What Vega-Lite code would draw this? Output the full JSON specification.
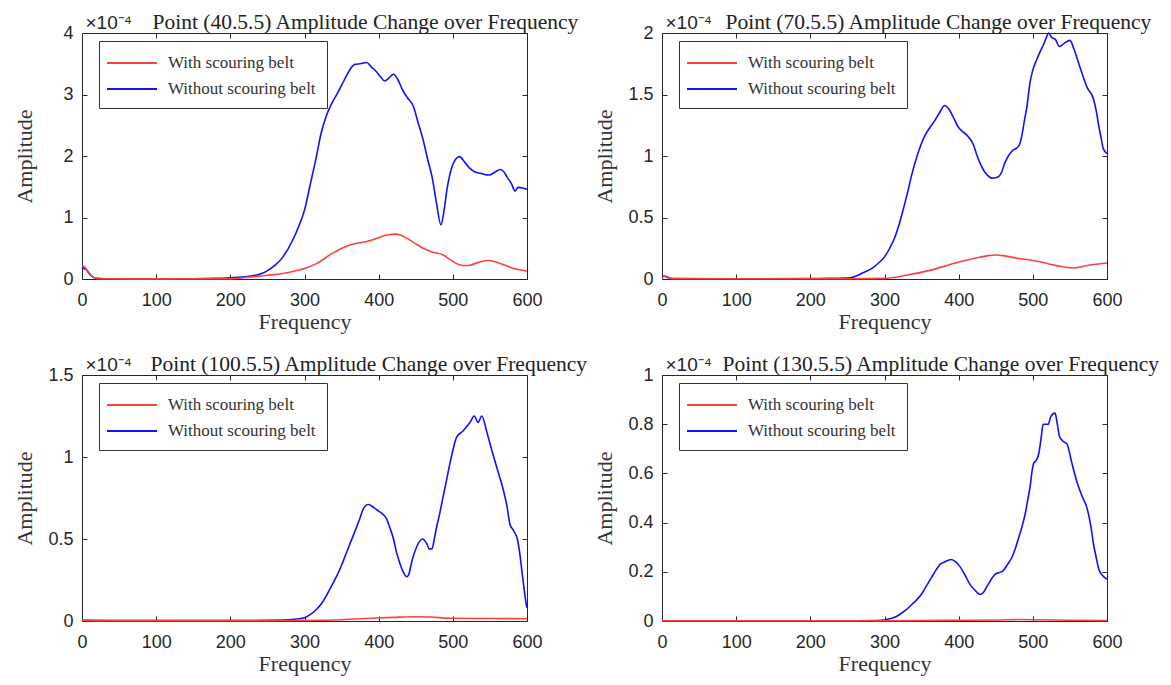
{
  "$schema": "https://vega.github.io/schema/vega-lite/v6.json",
  "background": "white",
  "padding": {"left": 12, "top": 10, "right": 5, "bottom": 5},
  "bounds": "flush",
  "columns": 2,
  "spacing": {"row": 96, "column": 135},
  "datasets": {
    "p1": [
      {"f":0,"a":0.19,"s":"Without scouring belt"},{"f":3,"a":0.17,"s":"Without scouring belt"},{"f":6,"a":0.15,"s":"Without scouring belt"},{"f":10,"a":0.08,"s":"Without scouring belt"},{"f":15,"a":0.03,"s":"Without scouring belt"},{"f":20,"a":0.01,"s":"Without scouring belt"},{"f":30,"a":0.005,"s":"Without scouring belt"},{"f":50,"a":0.003,"s":"Without scouring belt"},{"f":100,"a":0.003,"s":"Without scouring belt"},{"f":150,"a":0.005,"s":"Without scouring belt"},{"f":180,"a":0.01,"s":"Without scouring belt"},{"f":200,"a":0.02,"s":"Without scouring belt"},{"f":215,"a":0.03,"s":"Without scouring belt"},{"f":225,"a":0.045,"s":"Without scouring belt"},{"f":237,"a":0.07,"s":"Without scouring belt"},{"f":248,"a":0.12,"s":"Without scouring belt"},{"f":260,"a":0.22,"s":"Without scouring belt"},{"f":271,"a":0.36,"s":"Without scouring belt"},{"f":284,"a":0.63,"s":"Without scouring belt"},{"f":292,"a":0.85,"s":"Without scouring belt"},{"f":300,"a":1.12,"s":"Without scouring belt"},{"f":308,"a":1.55,"s":"Without scouring belt"},{"f":316,"a":1.99,"s":"Without scouring belt"},{"f":322,"a":2.35,"s":"Without scouring belt"},{"f":329,"a":2.64,"s":"Without scouring belt"},{"f":336,"a":2.84,"s":"Without scouring belt"},{"f":343,"a":2.99,"s":"Without scouring belt"},{"f":350,"a":3.15,"s":"Without scouring belt"},{"f":356,"a":3.29,"s":"Without scouring belt"},{"f":362,"a":3.42,"s":"Without scouring belt"},{"f":368,"a":3.49,"s":"Without scouring belt"},{"f":375,"a":3.5,"s":"Without scouring belt"},{"f":384,"a":3.52,"s":"Without scouring belt"},{"f":390,"a":3.45,"s":"Without scouring belt"},{"f":397,"a":3.37,"s":"Without scouring belt"},{"f":403,"a":3.28,"s":"Without scouring belt"},{"f":408,"a":3.22,"s":"Without scouring belt"},{"f":414,"a":3.27,"s":"Without scouring belt"},{"f":420,"a":3.33,"s":"Without scouring belt"},{"f":426,"a":3.24,"s":"Without scouring belt"},{"f":432,"a":3.08,"s":"Without scouring belt"},{"f":438,"a":2.96,"s":"Without scouring belt"},{"f":447,"a":2.8,"s":"Without scouring belt"},{"f":453,"a":2.55,"s":"Without scouring belt"},{"f":460,"a":2.26,"s":"Without scouring belt"},{"f":466,"a":1.95,"s":"Without scouring belt"},{"f":472,"a":1.66,"s":"Without scouring belt"},{"f":478,"a":1.23,"s":"Without scouring belt"},{"f":484,"a":0.88,"s":"Without scouring belt"},{"f":488,"a":1.1,"s":"Without scouring belt"},{"f":492,"a":1.45,"s":"Without scouring belt"},{"f":499,"a":1.83,"s":"Without scouring belt"},{"f":504,"a":1.95,"s":"Without scouring belt"},{"f":509,"a":1.99,"s":"Without scouring belt"},{"f":516,"a":1.9,"s":"Without scouring belt"},{"f":523,"a":1.8,"s":"Without scouring belt"},{"f":530,"a":1.74,"s":"Without scouring belt"},{"f":537,"a":1.72,"s":"Without scouring belt"},{"f":549,"a":1.69,"s":"Without scouring belt"},{"f":557,"a":1.74,"s":"Without scouring belt"},{"f":564,"a":1.78,"s":"Without scouring belt"},{"f":569,"a":1.74,"s":"Without scouring belt"},{"f":573,"a":1.66,"s":"Without scouring belt"},{"f":579,"a":1.55,"s":"Without scouring belt"},{"f":584,"a":1.43,"s":"Without scouring belt"},{"f":588,"a":1.49,"s":"Without scouring belt"},{"f":594,"a":1.48,"s":"Without scouring belt"},{"f":600,"a":1.46,"s":"Without scouring belt"},
      {"f":0,"a":0.22,"s":"With scouring belt"},{"f":3,"a":0.2,"s":"With scouring belt"},{"f":6,"a":0.16,"s":"With scouring belt"},{"f":10,"a":0.09,"s":"With scouring belt"},{"f":15,"a":0.03,"s":"With scouring belt"},{"f":20,"a":0.01,"s":"With scouring belt"},{"f":30,"a":0.003,"s":"With scouring belt"},{"f":100,"a":0.002,"s":"With scouring belt"},{"f":200,"a":0.005,"s":"With scouring belt"},{"f":225,"a":0.03,"s":"With scouring belt"},{"f":250,"a":0.06,"s":"With scouring belt"},{"f":271,"a":0.09,"s":"With scouring belt"},{"f":290,"a":0.14,"s":"With scouring belt"},{"f":300,"a":0.17,"s":"With scouring belt"},{"f":316,"a":0.25,"s":"With scouring belt"},{"f":338,"a":0.42,"s":"With scouring belt"},{"f":356,"a":0.53,"s":"With scouring belt"},{"f":370,"a":0.58,"s":"With scouring belt"},{"f":384,"a":0.61,"s":"With scouring belt"},{"f":395,"a":0.65,"s":"With scouring belt"},{"f":406,"a":0.7,"s":"With scouring belt"},{"f":414,"a":0.72,"s":"With scouring belt"},{"f":422,"a":0.73,"s":"With scouring belt"},{"f":430,"a":0.71,"s":"With scouring belt"},{"f":438,"a":0.66,"s":"With scouring belt"},{"f":449,"a":0.58,"s":"With scouring belt"},{"f":460,"a":0.5,"s":"With scouring belt"},{"f":472,"a":0.44,"s":"With scouring belt"},{"f":487,"a":0.39,"s":"With scouring belt"},{"f":496,"a":0.32,"s":"With scouring belt"},{"f":505,"a":0.25,"s":"With scouring belt"},{"f":514,"a":0.22,"s":"With scouring belt"},{"f":521,"a":0.22,"s":"With scouring belt"},{"f":530,"a":0.25,"s":"With scouring belt"},{"f":540,"a":0.29,"s":"With scouring belt"},{"f":548,"a":0.3,"s":"With scouring belt"},{"f":557,"a":0.28,"s":"With scouring belt"},{"f":569,"a":0.23,"s":"With scouring belt"},{"f":580,"a":0.18,"s":"With scouring belt"},{"f":590,"a":0.15,"s":"With scouring belt"},{"f":600,"a":0.13,"s":"With scouring belt"}
    ],
    "p2": [
      {"f":0,"a":0.02,"s":"Without scouring belt"},{"f":3,"a":0.025,"s":"Without scouring belt"},{"f":6,"a":0.02,"s":"Without scouring belt"},{"f":10,"a":0.008,"s":"Without scouring belt"},{"f":15,"a":0.003,"s":"Without scouring belt"},{"f":50,"a":0.002,"s":"Without scouring belt"},{"f":100,"a":0.002,"s":"Without scouring belt"},{"f":200,"a":0.003,"s":"Without scouring belt"},{"f":225,"a":0.005,"s":"Without scouring belt"},{"f":253,"a":0.01,"s":"Without scouring belt"},{"f":271,"a":0.05,"s":"Without scouring belt"},{"f":284,"a":0.09,"s":"Without scouring belt"},{"f":292,"a":0.13,"s":"Without scouring belt"},{"f":300,"a":0.18,"s":"Without scouring belt"},{"f":307,"a":0.25,"s":"Without scouring belt"},{"f":314,"a":0.34,"s":"Without scouring belt"},{"f":320,"a":0.45,"s":"Without scouring belt"},{"f":325,"a":0.56,"s":"Without scouring belt"},{"f":331,"a":0.7,"s":"Without scouring belt"},{"f":336,"a":0.83,"s":"Without scouring belt"},{"f":345,"a":1.02,"s":"Without scouring belt"},{"f":354,"a":1.16,"s":"Without scouring belt"},{"f":361,"a":1.23,"s":"Without scouring belt"},{"f":368,"a":1.29,"s":"Without scouring belt"},{"f":375,"a":1.36,"s":"Without scouring belt"},{"f":381,"a":1.41,"s":"Without scouring belt"},{"f":388,"a":1.37,"s":"Without scouring belt"},{"f":394,"a":1.3,"s":"Without scouring belt"},{"f":399,"a":1.24,"s":"Without scouring belt"},{"f":405,"a":1.2,"s":"Without scouring belt"},{"f":411,"a":1.17,"s":"Without scouring belt"},{"f":420,"a":1.09,"s":"Without scouring belt"},{"f":425,"a":1.0,"s":"Without scouring belt"},{"f":429,"a":0.94,"s":"Without scouring belt"},{"f":434,"a":0.88,"s":"Without scouring belt"},{"f":438,"a":0.85,"s":"Without scouring belt"},{"f":444,"a":0.82,"s":"Without scouring belt"},{"f":453,"a":0.83,"s":"Without scouring belt"},{"f":458,"a":0.87,"s":"Without scouring belt"},{"f":462,"a":0.94,"s":"Without scouring belt"},{"f":467,"a":1.0,"s":"Without scouring belt"},{"f":472,"a":1.04,"s":"Without scouring belt"},{"f":481,"a":1.08,"s":"Without scouring belt"},{"f":485,"a":1.16,"s":"Without scouring belt"},{"f":489,"a":1.3,"s":"Without scouring belt"},{"f":492,"a":1.4,"s":"Without scouring belt"},{"f":496,"a":1.59,"s":"Without scouring belt"},{"f":500,"a":1.7,"s":"Without scouring belt"},{"f":505,"a":1.78,"s":"Without scouring belt"},{"f":510,"a":1.85,"s":"Without scouring belt"},{"f":514,"a":1.9,"s":"Without scouring belt"},{"f":518,"a":1.96,"s":"Without scouring belt"},{"f":521,"a":2.0,"s":"Without scouring belt"},{"f":526,"a":1.96,"s":"Without scouring belt"},{"f":530,"a":1.95,"s":"Without scouring belt"},{"f":536,"a":1.89,"s":"Without scouring belt"},{"f":543,"a":1.92,"s":"Without scouring belt"},{"f":550,"a":1.94,"s":"Without scouring belt"},{"f":556,"a":1.86,"s":"Without scouring belt"},{"f":562,"a":1.75,"s":"Without scouring belt"},{"f":567,"a":1.66,"s":"Without scouring belt"},{"f":573,"a":1.56,"s":"Without scouring belt"},{"f":582,"a":1.46,"s":"Without scouring belt"},{"f":586,"a":1.35,"s":"Without scouring belt"},{"f":589,"a":1.24,"s":"Without scouring belt"},{"f":592,"a":1.15,"s":"Without scouring belt"},{"f":595,"a":1.06,"s":"Without scouring belt"},{"f":600,"a":1.02,"s":"Without scouring belt"},
      {"f":0,"a":0.01,"s":"With scouring belt"},{"f":4,"a":0.02,"s":"With scouring belt"},{"f":8,"a":0.01,"s":"With scouring belt"},{"f":15,"a":0.003,"s":"With scouring belt"},{"f":100,"a":0.002,"s":"With scouring belt"},{"f":250,"a":0.002,"s":"With scouring belt"},{"f":300,"a":0.005,"s":"With scouring belt"},{"f":329,"a":0.03,"s":"With scouring belt"},{"f":361,"a":0.07,"s":"With scouring belt"},{"f":396,"a":0.13,"s":"With scouring belt"},{"f":423,"a":0.17,"s":"With scouring belt"},{"f":440,"a":0.19,"s":"With scouring belt"},{"f":451,"a":0.195,"s":"With scouring belt"},{"f":460,"a":0.19,"s":"With scouring belt"},{"f":469,"a":0.18,"s":"With scouring belt"},{"f":483,"a":0.165,"s":"With scouring belt"},{"f":496,"a":0.155,"s":"With scouring belt"},{"f":510,"a":0.14,"s":"With scouring belt"},{"f":523,"a":0.12,"s":"With scouring belt"},{"f":540,"a":0.1,"s":"With scouring belt"},{"f":553,"a":0.09,"s":"With scouring belt"},{"f":563,"a":0.095,"s":"With scouring belt"},{"f":573,"a":0.11,"s":"With scouring belt"},{"f":585,"a":0.12,"s":"With scouring belt"},{"f":600,"a":0.13,"s":"With scouring belt"}
    ],
    "p3": [
      {"f":0,"a":0.005,"s":"Without scouring belt"},{"f":10,"a":0.004,"s":"Without scouring belt"},{"f":50,"a":0.003,"s":"Without scouring belt"},{"f":150,"a":0.003,"s":"Without scouring belt"},{"f":225,"a":0.003,"s":"Without scouring belt"},{"f":271,"a":0.006,"s":"Without scouring belt"},{"f":290,"a":0.012,"s":"Without scouring belt"},{"f":300,"a":0.02,"s":"Without scouring belt"},{"f":308,"a":0.04,"s":"Without scouring belt"},{"f":316,"a":0.07,"s":"Without scouring belt"},{"f":322,"a":0.1,"s":"Without scouring belt"},{"f":329,"a":0.15,"s":"Without scouring belt"},{"f":336,"a":0.21,"s":"Without scouring belt"},{"f":343,"a":0.27,"s":"Without scouring belt"},{"f":350,"a":0.34,"s":"Without scouring belt"},{"f":356,"a":0.41,"s":"Without scouring belt"},{"f":363,"a":0.49,"s":"Without scouring belt"},{"f":370,"a":0.57,"s":"Without scouring belt"},{"f":375,"a":0.63,"s":"Without scouring belt"},{"f":379,"a":0.68,"s":"Without scouring belt"},{"f":386,"a":0.71,"s":"Without scouring belt"},{"f":394,"a":0.69,"s":"Without scouring belt"},{"f":400,"a":0.67,"s":"Without scouring belt"},{"f":406,"a":0.65,"s":"Without scouring belt"},{"f":411,"a":0.62,"s":"Without scouring belt"},{"f":415,"a":0.57,"s":"Without scouring belt"},{"f":420,"a":0.5,"s":"Without scouring belt"},{"f":424,"a":0.42,"s":"Without scouring belt"},{"f":428,"a":0.36,"s":"Without scouring belt"},{"f":432,"a":0.31,"s":"Without scouring belt"},{"f":438,"a":0.27,"s":"Without scouring belt"},{"f":441,"a":0.29,"s":"Without scouring belt"},{"f":444,"a":0.35,"s":"Without scouring belt"},{"f":451,"a":0.45,"s":"Without scouring belt"},{"f":459,"a":0.5,"s":"Without scouring belt"},{"f":465,"a":0.47,"s":"Without scouring belt"},{"f":468,"a":0.44,"s":"Without scouring belt"},{"f":472,"a":0.44,"s":"Without scouring belt"},{"f":475,"a":0.5,"s":"Without scouring belt"},{"f":478,"a":0.57,"s":"Without scouring belt"},{"f":483,"a":0.67,"s":"Without scouring belt"},{"f":487,"a":0.76,"s":"Without scouring belt"},{"f":492,"a":0.87,"s":"Without scouring belt"},{"f":496,"a":0.96,"s":"Without scouring belt"},{"f":500,"a":1.04,"s":"Without scouring belt"},{"f":505,"a":1.12,"s":"Without scouring belt"},{"f":514,"a":1.16,"s":"Without scouring belt"},{"f":523,"a":1.21,"s":"Without scouring belt"},{"f":529,"a":1.25,"s":"Without scouring belt"},{"f":534,"a":1.21,"s":"Without scouring belt"},{"f":539,"a":1.25,"s":"Without scouring belt"},{"f":546,"a":1.15,"s":"Without scouring belt"},{"f":552,"a":1.05,"s":"Without scouring belt"},{"f":559,"a":0.94,"s":"Without scouring belt"},{"f":568,"a":0.8,"s":"Without scouring belt"},{"f":573,"a":0.7,"s":"Without scouring belt"},{"f":577,"a":0.59,"s":"Without scouring belt"},{"f":582,"a":0.55,"s":"Without scouring belt"},{"f":587,"a":0.5,"s":"Without scouring belt"},{"f":590,"a":0.42,"s":"Without scouring belt"},{"f":593,"a":0.31,"s":"Without scouring belt"},{"f":596,"a":0.2,"s":"Without scouring belt"},{"f":599,"a":0.1,"s":"Without scouring belt"},{"f":600,"a":0.08,"s":"Without scouring belt"},
      {"f":0,"a":0.005,"s":"With scouring belt"},{"f":20,"a":0.002,"s":"With scouring belt"},{"f":250,"a":0.002,"s":"With scouring belt"},{"f":300,"a":0.003,"s":"With scouring belt"},{"f":350,"a":0.008,"s":"With scouring belt"},{"f":396,"a":0.018,"s":"With scouring belt"},{"f":420,"a":0.022,"s":"With scouring belt"},{"f":447,"a":0.026,"s":"With scouring belt"},{"f":470,"a":0.024,"s":"With scouring belt"},{"f":496,"a":0.017,"s":"With scouring belt"},{"f":550,"a":0.015,"s":"With scouring belt"},{"f":600,"a":0.014,"s":"With scouring belt"}
    ],
    "p4": [
      {"f":0,"a":0.001,"s":"Without scouring belt"},{"f":100,"a":0.001,"s":"Without scouring belt"},{"f":250,"a":0.001,"s":"Without scouring belt"},{"f":290,"a":0.002,"s":"Without scouring belt"},{"f":300,"a":0.004,"s":"Without scouring belt"},{"f":308,"a":0.01,"s":"Without scouring belt"},{"f":316,"a":0.018,"s":"Without scouring belt"},{"f":322,"a":0.03,"s":"Without scouring belt"},{"f":329,"a":0.045,"s":"Without scouring belt"},{"f":336,"a":0.065,"s":"Without scouring belt"},{"f":343,"a":0.085,"s":"Without scouring belt"},{"f":350,"a":0.11,"s":"Without scouring belt"},{"f":356,"a":0.14,"s":"Without scouring belt"},{"f":363,"a":0.175,"s":"Without scouring belt"},{"f":370,"a":0.21,"s":"Without scouring belt"},{"f":375,"a":0.23,"s":"Without scouring belt"},{"f":381,"a":0.24,"s":"Without scouring belt"},{"f":390,"a":0.25,"s":"Without scouring belt"},{"f":396,"a":0.24,"s":"Without scouring belt"},{"f":402,"a":0.22,"s":"Without scouring belt"},{"f":408,"a":0.19,"s":"Without scouring belt"},{"f":415,"a":0.15,"s":"Without scouring belt"},{"f":422,"a":0.125,"s":"Without scouring belt"},{"f":429,"a":0.108,"s":"Without scouring belt"},{"f":433,"a":0.115,"s":"Without scouring belt"},{"f":438,"a":0.14,"s":"Without scouring belt"},{"f":444,"a":0.17,"s":"Without scouring belt"},{"f":449,"a":0.19,"s":"Without scouring belt"},{"f":455,"a":0.197,"s":"Without scouring belt"},{"f":460,"a":0.205,"s":"Without scouring belt"},{"f":466,"a":0.23,"s":"Without scouring belt"},{"f":472,"a":0.26,"s":"Without scouring belt"},{"f":477,"a":0.3,"s":"Without scouring belt"},{"f":481,"a":0.34,"s":"Without scouring belt"},{"f":486,"a":0.39,"s":"Without scouring belt"},{"f":490,"a":0.44,"s":"Without scouring belt"},{"f":493,"a":0.49,"s":"Without scouring belt"},{"f":496,"a":0.54,"s":"Without scouring belt"},{"f":499,"a":0.61,"s":"Without scouring belt"},{"f":501,"a":0.64,"s":"Without scouring belt"},{"f":505,"a":0.655,"s":"Without scouring belt"},{"f":508,"a":0.68,"s":"Without scouring belt"},{"f":511,"a":0.74,"s":"Without scouring belt"},{"f":514,"a":0.8,"s":"Without scouring belt"},{"f":521,"a":0.8,"s":"Without scouring belt"},{"f":524,"a":0.83,"s":"Without scouring belt"},{"f":530,"a":0.845,"s":"Without scouring belt"},{"f":533,"a":0.8,"s":"Without scouring belt"},{"f":536,"a":0.75,"s":"Without scouring belt"},{"f":541,"a":0.73,"s":"Without scouring belt"},{"f":546,"a":0.72,"s":"Without scouring belt"},{"f":552,"a":0.65,"s":"Without scouring belt"},{"f":559,"a":0.57,"s":"Without scouring belt"},{"f":566,"a":0.51,"s":"Without scouring belt"},{"f":573,"a":0.46,"s":"Without scouring belt"},{"f":578,"a":0.39,"s":"Without scouring belt"},{"f":582,"a":0.31,"s":"Without scouring belt"},{"f":586,"a":0.25,"s":"Without scouring belt"},{"f":589,"a":0.21,"s":"Without scouring belt"},{"f":594,"a":0.185,"s":"Without scouring belt"},{"f":600,"a":0.17,"s":"Without scouring belt"},
      {"f":0,"a":0.001,"s":"With scouring belt"},{"f":300,"a":0.001,"s":"With scouring belt"},{"f":350,"a":0.002,"s":"With scouring belt"},{"f":400,"a":0.003,"s":"With scouring belt"},{"f":450,"a":0.004,"s":"With scouring belt"},{"f":480,"a":0.006,"s":"With scouring belt"},{"f":510,"a":0.005,"s":"With scouring belt"},{"f":550,"a":0.003,"s":"With scouring belt"},{"f":600,"a":0.002,"s":"With scouring belt"}
    ]
  },
  "concat": [
    {
      "width": 445, "height": 246,
      "layer": [
        {"data": {"name": "p1"}, "mark": {"type": "line", "strokeWidth": 1.6, "interpolate": "monotone"},
         "encoding": {
           "x": {"field": "f", "type": "quantitative", "scale": {"domain": [0, 600], "nice": false}, "axis": {"values": [0,100,200,300,400,500,600], "title": "Frequency"}},
           "y": {"field": "a", "type": "quantitative", "scale": {"domain": [0, 4], "nice": false}, "axis": {"values": [0,1,2,3,4], "title": "Amplitude"}},
           "color": {"field": "s", "type": "nominal", "scale": {"domain": ["With scouring belt", "Without scouring belt"], "range": ["#ff4040", "#1010ff"]}, "legend": {"orient": "none", "legendX": 17, "legendY": 8}}
         }},
        {"data": {"name": "p1"}, "mark": {"type": "line", "opacity": 0},
         "encoding": {
           "x": {"field": "f", "type": "quantitative", "axis": {"orient": "top", "values": [0,100,200,300,400,500,600], "labels": false, "title": "Point (40.5.5) Amplitude Change over Frequency", "titleX": 70, "titleY": -5, "titleAlign": "left", "titleAnchor": "start", "titleBaseline": "alphabetic", "titleColor": "#222222", "titleFontSize": 21.5}},
           "y": {"field": "a", "type": "quantitative", "axis": {"orient": "right", "values": [0,1,2,3,4], "labels": false, "minExtent": 0, "title": "×10⁻⁴", "titleX": -442, "titleY": -5, "titleAngle": 0, "titleAlign": "left", "titleBaseline": "alphabetic", "titleFont": "Liberation Sans", "titleFontSize": 19, "titleColor": "#262626"}}
         }}
      ],
      "resolve": {"axis": {"x": "independent", "y": "independent"}}
    },
    {
      "width": 445, "height": 246,
      "layer": [
        {"data": {"name": "p2"}, "mark": {"type": "line", "strokeWidth": 1.6, "interpolate": "monotone"},
         "encoding": {
           "x": {"field": "f", "type": "quantitative", "scale": {"domain": [0, 600], "nice": false}, "axis": {"values": [0,100,200,300,400,500,600], "title": "Frequency"}},
           "y": {"field": "a", "type": "quantitative", "scale": {"domain": [0, 2], "nice": false}, "axis": {"values": [0,0.5,1,1.5,2], "title": "Amplitude"}},
           "color": {"field": "s", "type": "nominal", "scale": {"domain": ["With scouring belt", "Without scouring belt"], "range": ["#ff4040", "#1010ff"]}, "legend": {"orient": "none", "legendX": 17, "legendY": 8}}
         }},
        {"data": {"name": "p2"}, "mark": {"type": "line", "opacity": 0},
         "encoding": {
           "x": {"field": "f", "type": "quantitative", "axis": {"orient": "top", "values": [0,100,200,300,400,500,600], "labels": false, "title": "Point (70.5.5) Amplitude Change over Frequency", "titleX": 63, "titleY": -5, "titleAlign": "left", "titleAnchor": "start", "titleBaseline": "alphabetic", "titleColor": "#222222", "titleFontSize": 21.5}},
           "y": {"field": "a", "type": "quantitative", "axis": {"orient": "right", "values": [0,0.5,1,1.5,2], "labels": false, "minExtent": 0, "title": "×10⁻⁴", "titleX": -442, "titleY": -5, "titleAngle": 0, "titleAlign": "left", "titleBaseline": "alphabetic", "titleFont": "Liberation Sans", "titleFontSize": 19, "titleColor": "#262626"}}
         }}
      ],
      "resolve": {"axis": {"x": "independent", "y": "independent"}}
    },
    {
      "width": 445, "height": 246,
      "layer": [
        {"data": {"name": "p3"}, "mark": {"type": "line", "strokeWidth": 1.6, "interpolate": "monotone"},
         "encoding": {
           "x": {"field": "f", "type": "quantitative", "scale": {"domain": [0, 600], "nice": false}, "axis": {"values": [0,100,200,300,400,500,600], "title": "Frequency"}},
           "y": {"field": "a", "type": "quantitative", "scale": {"domain": [0, 1.5], "nice": false}, "axis": {"values": [0,0.5,1,1.5], "title": "Amplitude"}},
           "color": {"field": "s", "type": "nominal", "scale": {"domain": ["With scouring belt", "Without scouring belt"], "range": ["#ff4040", "#1010ff"]}, "legend": {"orient": "none", "legendX": 17, "legendY": 8}}
         }},
        {"data": {"name": "p3"}, "mark": {"type": "line", "opacity": 0},
         "encoding": {
           "x": {"field": "f", "type": "quantitative", "axis": {"orient": "top", "values": [0,100,200,300,400,500,600], "labels": false, "title": "Point (100.5.5) Amplitude Change over Frequency", "titleX": 68, "titleY": -5, "titleAlign": "left", "titleAnchor": "start", "titleBaseline": "alphabetic", "titleColor": "#222222", "titleFontSize": 21.5}},
           "y": {"field": "a", "type": "quantitative", "axis": {"orient": "right", "values": [0,0.5,1,1.5], "labels": false, "minExtent": 0, "title": "×10⁻⁴", "titleX": -442, "titleY": -5, "titleAngle": 0, "titleAlign": "left", "titleBaseline": "alphabetic", "titleFont": "Liberation Sans", "titleFontSize": 19, "titleColor": "#262626"}}
         }}
      ],
      "resolve": {"axis": {"x": "independent", "y": "independent"}}
    },
    {
      "width": 445, "height": 246,
      "layer": [
        {"data": {"name": "p4"}, "mark": {"type": "line", "strokeWidth": 1.6, "interpolate": "monotone"},
         "encoding": {
           "x": {"field": "f", "type": "quantitative", "scale": {"domain": [0, 600], "nice": false}, "axis": {"values": [0,100,200,300,400,500,600], "title": "Frequency"}},
           "y": {"field": "a", "type": "quantitative", "scale": {"domain": [0, 1], "nice": false}, "axis": {"values": [0,0.2,0.4,0.6,0.8,1], "title": "Amplitude"}},
           "color": {"field": "s", "type": "nominal", "scale": {"domain": ["With scouring belt", "Without scouring belt"], "range": ["#ff4040", "#1010ff"]}, "legend": {"orient": "none", "legendX": 17, "legendY": 8}}
         }},
        {"data": {"name": "p4"}, "mark": {"type": "line", "opacity": 0},
         "encoding": {
           "x": {"field": "f", "type": "quantitative", "axis": {"orient": "top", "values": [0,100,200,300,400,500,600], "labels": false, "title": "Point (130.5.5) Amplitude Change over Frequency", "titleX": 60, "titleY": -5, "titleAlign": "left", "titleAnchor": "start", "titleBaseline": "alphabetic", "titleColor": "#222222", "titleFontSize": 21.5}},
           "y": {"field": "a", "type": "quantitative", "axis": {"orient": "right", "values": [0,0.2,0.4,0.6,0.8,1], "labels": false, "minExtent": 0, "title": "×10⁻⁴", "titleX": -442, "titleY": -5, "titleAngle": 0, "titleAlign": "left", "titleBaseline": "alphabetic", "titleFont": "Liberation Sans", "titleFontSize": 19, "titleColor": "#262626"}}
         }}
      ],
      "resolve": {"axis": {"x": "independent", "y": "independent"}}
    }
  ],
  "resolve": {"scale": {"color": "independent"}, "legend": {"color": "independent"}},
  "config": {
    "view": {"stroke": "#262626", "strokeWidth": 1},
    "axis": {
      "grid": false, "domain": false,
      "tickSize": -5, "tickColor": "#262626", "tickWidth": 1,
      "labelFont": "Liberation Sans", "labelFontSize": 18, "labelColor": "#262626", "labelFlush": false,
      "format": "~r",
      "titleFont": "Liberation Serif", "titleFontSize": 22, "titleFontWeight": "normal", "titleColor": "#333333"
    },
    "axisBottom": {"titlePadding": 2, "labelPadding": 17},
    "axisLeft": {"labelPadding": 14, "titleX": -58, "titleBaseline": "middle"},
    "legend": {
      "title": null, "strokeColor": "#333333", "fillColor": "white", "padding": 11,
      "labelFont": "Liberation Serif", "labelFontSize": 17, "labelColor": "#333333",
      "symbolType": "M-2.5,0H2.5", "symbolSize": 400, "symbolStrokeWidth": 2, "symbolOffset": 11, "labelOffset": 25, "rowPadding": 7
    }
  }
}
